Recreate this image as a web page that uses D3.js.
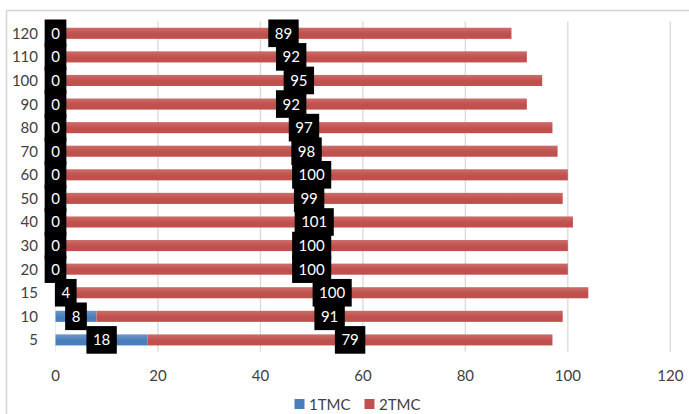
<!DOCTYPE html>
<html>
<head>
<meta charset="utf-8">
<script src="https://cdn.jsdelivr.net/npm/d3@7"></script>
<style>
  html, body { margin: 0; padding: 0; background: #fff; }
  svg { display: block; font-family: Lato, "Open Sans", sans-serif; }
</style>
</head>
<body>
<svg id="chart" width="689" height="414"></svg>
<script>
// Categories, bottom row first
const categories = ["5", "10", "15", "20", "30", "40", "50", "60", "70", "80", "90", "100", "110", "120"];
const seriesNames = ["1TMC", "2TMC"];
const tmc1 = [18, 8, 4, 0, 0, 0, 0, 0, 0, 0, 0, 0, 0, 0];
const tmc2 = [79, 91, 100, 100, 100, 101, 99, 100, 98, 97, 92, 95, 92, 89];
const xTicks = [0, 20, 40, 60, 80, 100, 120];

const colors = { "1TMC": ["#6d96ca", "#4a7ebb"], "2TMC": ["#cb6d6a", "#c0504d"] };

const svg = d3.select("#chart");
const W = 689, H = 414;
const plot = { left: 55.5, right: 670.3, top: 21.5, bottom: 351.7 };

// Chart frame
svg.append("line").attr("x1", 6.5).attr("x2", W).attr("y1", 10.5).attr("y2", 10.5)
  .attr("stroke", "#d4d4d4").attr("stroke-width", 1.5);
svg.append("line").attr("x1", 6.5).attr("x2", 6.5).attr("y1", 10.5).attr("y2", H)
  .attr("stroke", "#d4d4d4").attr("stroke-width", 1.5);

// Gradients for bars
const defs = svg.append("defs");
seriesNames.forEach((s, i) => {
  const g = defs.append("linearGradient").attr("id", "grad" + i)
    .attr("x1", 0).attr("x2", 0).attr("y1", 0).attr("y2", 1);
  g.append("stop").attr("offset", "0%").attr("stop-color", colors[s][0]);
  g.append("stop").attr("offset", "55%").attr("stop-color", colors[s][1]);
  g.append("stop").attr("offset", "100%").attr("stop-color", colors[s][1]);
});

const x = d3.scaleLinear().domain([0, 120]).range([plot.left, plot.right]);
const y = d3.scaleBand().domain(categories.slice().reverse())
  .range([plot.top, plot.bottom]).paddingInner(0.53).paddingOuter(0.265);

// Gridlines
svg.append("g").selectAll("line").data(xTicks).join("line")
  .attr("x1", d => x(d)).attr("x2", d => x(d))
  .attr("y1", plot.top).attr("y2", plot.bottom)
  .attr("stroke", d => d === 0 ? "#ececec" : "#d9d9d9").attr("stroke-width", 1.3);

// Stacked data
const rows = categories.map((c, i) => ({ cat: c, "1TMC": tmc1[i], "2TMC": tmc2[i] }));
const stacked = d3.stack().keys(seriesNames)(rows);

const barG = svg.append("g");
stacked.forEach((layer, si) => {
  barG.append("g").attr("fill", `url(#grad${si})`)
    .selectAll("rect").data(layer).join("rect")
    .attr("x", d => x(d[0]))
    .attr("y", d => y(d.data.cat))
    .attr("width", d => x(d[1]) - x(d[0]))
    .attr("height", y.bandwidth());
});

// Y axis labels
svg.append("g").selectAll("text").data(categories).join("text")
  .attr("x", 38).attr("y", d => y(d) + y.bandwidth() / 2 + 5.5)
  .attr("text-anchor", "end").attr("font-size", 15).attr("fill", "#404040")
  .text(d => d);

// X axis labels
svg.append("g").selectAll("text").data(xTicks).join("text")
  .attr("x", d => x(d)).attr("y", 380.5)
  .attr("text-anchor", "middle").attr("font-size", 15).attr("fill", "#404040")
  .text(d => d);

// Data labels on black boxes
const labelG = svg.append("g");
stacked.forEach(layer => {
  layer.forEach(d => {
    const v = d[1] - d[0];
    const cx = x((d[0] + d[1]) / 2);
    const cy = y(d.data.cat) + y.bandwidth() / 2;
    const g = labelG.append("g");
    const box = g.append("rect").attr("fill", "#000");
    const t = g.append("text").attr("x", cx).attr("y", cy + 5.5)
      .attr("text-anchor", "middle").attr("font-size", 15).attr("fill", "#fff")
      .text(v);
    const w = t.node().getComputedTextLength() + 13;
    box.attr("x", cx - w / 2).attr("y", cy - 13.8).attr("width", w).attr("height", 27.6);
  });
});

// Legend
const legend = svg.append("g");
const legendItems = [{ name: "1TMC", x: 294.5 }, { name: "2TMC", x: 364.5 }];
legendItems.forEach((it, i) => {
  legend.append("rect").attr("x", it.x).attr("y", 399).attr("width", 10).attr("height", 10)
    .attr("fill", colors[it.name][1]);
  legend.append("text").attr("x", it.x + 14.5).attr("y", 409.5)
    .attr("font-size", 15).attr("fill", "#404040").text(it.name);
});
</script>
</body>
</html>
